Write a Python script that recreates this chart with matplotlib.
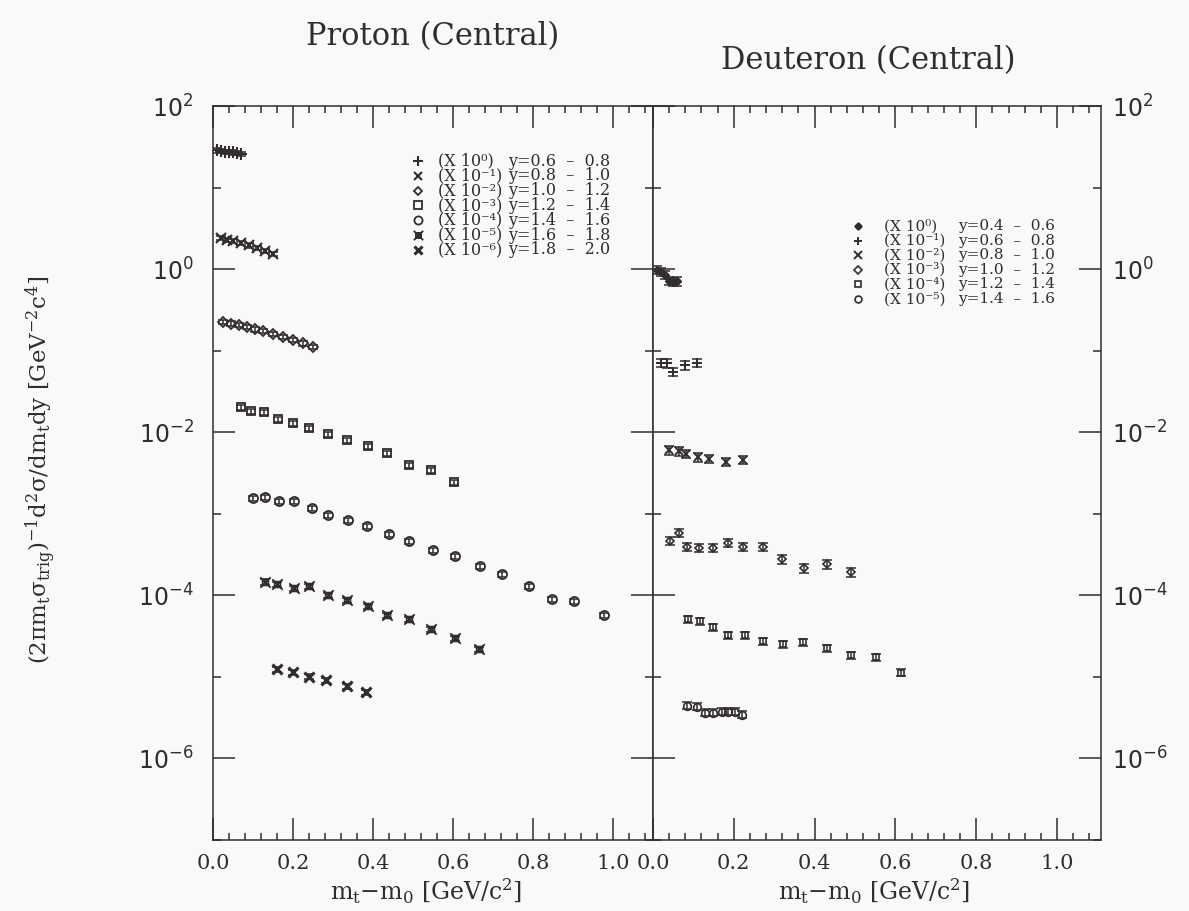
import numpy as np
import matplotlib
matplotlib.use("Agg")
import matplotlib.pyplot as plt
from matplotlib.path import Path
from matplotlib.ticker import FixedLocator, NullFormatter

# ------------------------------------------------------------------ data
# Proton (Central): unscaled invariant yields, plotted multiplied by 10^exp
proton_ranges = ["y=0.6  –  0.8", "y=0.8  –  1.0", "y=1.0  –  1.2", "y=1.2  –  1.4",
                 "y=1.4  –  1.6", "y=1.6  –  1.8", "y=1.8  –  2.0"]
proton_scale_exp = [0, -1, -2, -3, -4, -5, -6]

p1_x = [0.01, 0.02, 0.03, 0.04, 0.05, 0.06, 0.07]
p1_y = [28.5, 28.0, 27.5, 27.2, 27.0, 26.5, 26.0]
p2_x = [0.02, 0.035, 0.05, 0.07, 0.09, 0.11, 0.13, 0.15]
p2_y = [24.0, 23.0, 22.0, 21.0, 19.5, 18.0, 16.8, 15.5]
p3_x = [0.025, 0.045, 0.065, 0.085, 0.105, 0.125, 0.15, 0.175, 0.20, 0.225, 0.25]
p3_y = [22.5, 21.5, 20.8, 19.5, 18.2, 17.3, 16.0, 14.8, 13.6, 12.3, 11.0]
p4_x = [0.07, 0.095, 0.127, 0.162, 0.20, 0.239, 0.287, 0.334, 0.387, 0.436, 0.491, 0.546, 0.603]
p4_y = [20.3, 18.1, 17.6, 14.5, 12.9, 11.2, 9.44, 7.98, 6.73, 5.52, 3.94, 3.42, 2.44]
p5_x = [0.10, 0.13, 0.165, 0.202, 0.247, 0.287, 0.337, 0.386, 0.439, 0.491, 0.551, 0.606,
        0.668, 0.723, 0.791, 0.848, 0.903, 0.978]
p5_y = [15.5, 15.9, 14.2, 14.2, 11.7, 9.59, 8.32, 7.03, 5.60, 4.60, 3.56, 3.01,
        2.27, 1.81, 1.29, 0.893, 0.843, 0.569]
p6_x = [0.13, 0.16, 0.202, 0.239, 0.287, 0.334, 0.387, 0.436, 0.491, 0.546, 0.606, 0.666]
p6_y = [14.5, 13.6, 12.2, 12.9, 10.0, 8.69, 7.33, 5.69, 5.08, 3.83, 2.97, 2.17]
p7_x = [0.16, 0.20, 0.239, 0.282, 0.334, 0.382]
p7_y = [12.4, 11.4, 10.1, 9.06, 7.64, 6.46]
proton_rel_err = [0.06, 0.06, 0.06, 0.07, 0.07, 0.08, 0.08]

# Deuteron (Central)
deuteron_ranges = ["y=0.4  –  0.6", "y=0.6  –  0.8", "y=0.8  –  1.0", "y=1.0  –  1.2",
                   "y=1.2  –  1.4", "y=1.4  –  1.6"]
deuteron_scale_exp = [0, -1, -2, -3, -4, -5]

d1_x = [0.01, 0.02, 0.03, 0.04, 0.05, 0.06]
d1_y = [0.98, 0.93, 0.85, 0.72, 0.70, 0.71]
d2_x = [0.02, 0.035, 0.05, 0.08, 0.11]
d2_y = [0.71, 0.70, 0.55, 0.66, 0.71]
d3_x = [0.04, 0.064, 0.082, 0.111, 0.139, 0.181, 0.223]
d3_y = [0.597, 0.581, 0.548, 0.490, 0.476, 0.437, 0.462]
d4_x = [0.042, 0.064, 0.084, 0.114, 0.149, 0.186, 0.223, 0.272, 0.319, 0.374, 0.431, 0.49]
d4_y = [0.465, 0.583, 0.393, 0.381, 0.381, 0.440, 0.393, 0.393, 0.279, 0.216, 0.242, 0.193]
d5_x = [0.087, 0.116, 0.149, 0.186, 0.228, 0.272, 0.322, 0.371, 0.431, 0.49, 0.552, 0.614]
d5_y = [0.509, 0.481, 0.406, 0.324, 0.324, 0.273, 0.251, 0.265, 0.224, 0.184, 0.173, 0.113]
d6_x = [0.084, 0.109, 0.129, 0.149, 0.171, 0.186, 0.203, 0.22]
d6_y = [0.445, 0.432, 0.365, 0.365, 0.375, 0.375, 0.375, 0.344]
deuteron_rel_err = [0.12, 0.12, 0.12, 0.12, 0.10, 0.10]

xtick_values = [0.0, 0.2, 0.4, 0.6, 0.8, 1.0]
xtick_labels = ["0.0", "0.2", "0.4", "0.6", "0.8", "1.0"]
ytick_major_exp = [2, 0, -2, -4, -6]
ytick_minor_exp = [1, -1, -3, -5, -7]

title_left = "Proton (Central)"
title_right = "Deuteron (Central)"
xlabel_text = r"m$_{\rm t}$−m$_{\rm 0}$ [GeV/c$^2$]"
ylabel_text = r"(2πm$_{\rm t}$σ$_{\rm trig}$)$^{-1}$d$^2$σ/dm$_{\rm t}$dy [GeV$^{-2}$c$^4$]"

# ------------------------------------------------------------------ style
W, H, DPI = 1189, 911, 100
INK = "#322d2d"
BG = "#f9f9f7"
plt.rcParams["font.family"] = ["DejaVu Sans"]
plt.rcParams["mathtext.fontset"] = "dejavusans"

SUP = str.maketrans("-0123456789", "⁻⁰¹²³⁴⁵⁶⁷⁸⁹")


def sup(e):
    return str(e).translate(SUP)


def closed(pts):
    return Path(pts, [Path.MOVETO] + [Path.LINETO] * (len(pts) - 2) + [Path.CLOSEPOLY])


s = 0.55
boxx = Path.make_compound_path(
    closed([(-s, -s), (s, -s), (s, s), (-s, s), (-s, -s)]),
    Path([(-1, -1), (1, 1)], [Path.MOVETO, Path.LINETO]),
    Path([(-1, 1), (1, -1)], [Path.MOVETO, Path.LINETO]))
uc = Path.unit_circle()
circplus = Path.make_compound_path(
    Path(uc.vertices * 0.62, uc.codes),
    Path([(-1, 0), (1, 0)], [Path.MOVETO, Path.LINETO]),
    Path([(0, -1), (0, 1)], [Path.MOVETO, Path.LINETO]))

proton_series = [(p1_x, p1_y), (p2_x, p2_y), (p3_x, p3_y), (p4_x, p4_y),
                 (p5_x, p5_y), (p6_x, p6_y), (p7_x, p7_y)]
proton_markers = ["+", "x", "D", "s", "o", boxx, "x"]
proton_ms = [8, 6.5, 5, 6, 6.5, 7.5, 6.5]
proton_mew = [1.5, 1.5, 1.3, 1.3, 1.3, 1.3, 2.2]

deut_series = [(d1_x, d1_y), (d2_x, d2_y), (d3_x, d3_y), (d4_x, d4_y),
               (d5_x, d5_y), (d6_x, d6_y)]
deut_markers = [circplus, "+", "x", "D", "s", "o"]
deut_ms = [6.5, 6.5, 6, 4.5, 5, 5.5]
deut_mew = [1.3, 1.4, 1.4, 1.2, 1.2, 1.2]

fig = plt.figure(figsize=(W / DPI, H / DPI), dpi=DPI, facecolor=BG)


def fx(px):
    return px / W


def fy(py):
    return 1 - py / H


TOP, BOT = 106, 840
L1, MID, R2 = 213, 653, 1101
ax1 = fig.add_axes([fx(L1), fy(BOT), fx(MID) - fx(L1), fy(TOP) - fy(BOT)])
ax2 = fig.add_axes([fx(MID), fy(BOT), fx(R2) - fx(MID), fy(TOP) - fy(BOT)])


def setup(ax, xmax, left_labels):
    ax.set_facecolor(BG)
    ax.set_yscale("log")
    ax.set_ylim(1e-7, 1e2)
    ax.set_xlim(0, xmax)
    ax.set_xticks(xtick_values, labels=xtick_labels)
    ax.xaxis.set_minor_locator(FixedLocator(np.arange(0, xmax + 1e-9, 0.04)))
    ax.set_yticks([10.0 ** e for e in ytick_major_exp],
                  labels=[r"$\mathdefault{10^{%d}}$" % e for e in ytick_major_exp])
    ax.yaxis.set_minor_locator(FixedLocator([10.0 ** e for e in ytick_minor_exp]))
    ax.yaxis.set_minor_formatter(NullFormatter())
    for sp in ax.spines.values():
        sp.set_color(INK)
        sp.set_linewidth(1.1)
    ax.tick_params(which="both", direction="in", top=True, bottom=True, left=True,
                   right=True, color=INK, width=1.1, labelcolor=INK)
    ax.tick_params(axis="x", which="major", length=16, pad=10, labelsize=15,
                   labelfontfamily="DejaVu Serif")
    ax.tick_params(axis="x", which="minor", length=5)
    ax.tick_params(axis="y", which="major", length=16, labelsize=17,
                   labelfontfamily="DejaVu Sans")
    ax.tick_params(axis="y", which="minor", length=6)
    if left_labels:
        ax.tick_params(axis="y", labelleft=True, labelright=False, pad=14)
    else:
        ax.tick_params(axis="y", labelleft=False, labelright=True, pad=8)


setup(ax1, 1.1, True)
setup(ax2, (R2 - MID) / 404.0, False)


def draw(ax, series, exps, errs, markers, ms, mew):
    for (x, y), e, f, m, s_, w in zip(series, exps, errs, markers, ms, mew):
        yy = np.asarray(y) * 10.0 ** e
        ax.errorbar(x, yy, yerr=yy * f, fmt="none", ecolor=INK, elinewidth=1.1,
                    capsize=3.5, capthick=1.1, zorder=2)
        ax.plot(x, yy, linestyle="none", marker=m, ms=s_, mew=w, mec=INK,
                mfc="none", color=INK, zorder=3)


draw(ax1, proton_series, proton_scale_exp, proton_rel_err, proton_markers, proton_ms, proton_mew)
draw(ax2, deut_series, deuteron_scale_exp, deuteron_rel_err, deut_markers, deut_ms, deut_mew)


# legends (key column, factor column, rapidity column)
def legend(ax, axl, axw, exps, ranges, markers, ms, mew, key_px, c1_px, c2_px, row0, dy, fs):
    for i, (e, r, m, s_, w) in enumerate(zip(exps, ranges, markers, ms, mew)):
        yy = (BOT - (row0 + i * dy)) / (BOT - TOP)
        ax.plot([(key_px - axl) / axw], [yy], transform=ax.transAxes, linestyle="none",
                marker=m, ms=s_ * 0.9, mew=w, mec=INK, mfc="none", clip_on=False)
        ax.text((c1_px - axl) / axw, yy, "(X 10" + sup(e) + ")", transform=ax.transAxes,
                fontsize=fs, family=["DejaVu Serif"], color=INK, va="center", ha="left")
        ax.text((c2_px - axl) / axw, yy, r, transform=ax.transAxes,
                fontsize=fs, family=["DejaVu Serif"], color=INK, va="center", ha="left")


legend(ax1, L1, MID - L1, proton_scale_exp, proton_ranges, proton_markers, proton_ms,
       proton_mew, 418, 438, 508, 161, 14.8, 11.5)
legend(ax2, MID, R2 - MID, deuteron_scale_exp, deuteron_ranges, deut_markers, deut_ms,
       deut_mew, 858, 884, 958, 226, 14.6, 11)

# titles and axis labels
fig.text(fx(433), fy(37), title_left, fontsize=22, family="DejaVu Serif", color=INK,
         ha="center", va="center")
fig.text(fx(868), fy(61), title_right, fontsize=22, family="DejaVu Serif", color=INK,
         ha="center", va="center")

for ax, cx, axl, axw in [(ax1, 426, L1, MID - L1), (ax2, 874, MID, R2 - MID)]:
    ax.set_xlabel(xlabel_text, fontsize=17, family="DejaVu Serif", color=INK,
                  math_fontfamily="dejavuserif")
    ax.xaxis.set_label_coords((cx - axl) / axw, (BOT - 876) / (BOT - TOP))

ax1.set_ylabel(ylabel_text, fontsize=16.5, family="DejaVu Serif", color=INK,
               math_fontfamily="dejavuserif")
ax1.yaxis.set_label_coords((58 - L1) / (MID - L1), (BOT - 470) / (BOT - TOP))

fig.savefig("out.png", dpi=DPI, facecolor=BG)
